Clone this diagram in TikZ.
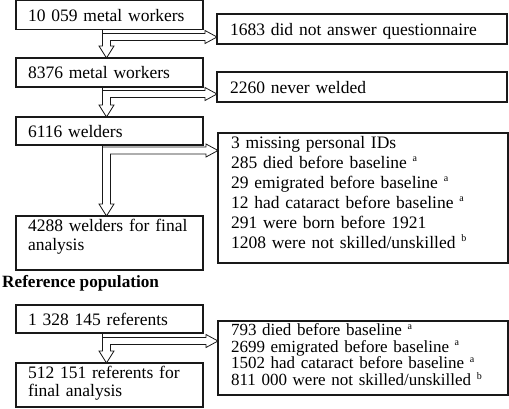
\documentclass[tikz,border=0pt]{standalone}
\usepackage{fontspec}
\setmainfont{Liberation Serif}
\usetikzlibrary{calc}
\definecolor{ink}{RGB}{25,25,25}
\newcommand\fnm[1]{\raisebox{6.5pt}{\fontsize{10}{10}\selectfont #1}}

\begin{document}
\begin{tikzpicture}[x=1pt,y=-1pt,
    stage/.style={draw=ink,line width=1.2pt,anchor=north west,outer sep=0pt,align=left,
      inner ysep=2pt,font=\fontsize{17.5}{19}\selectfont},
    lbox/.style={stage,text width=163pt,inner xsep=12pt},
    rbox/.style={stage,text width=264pt,inner xsep=13pt},
    single/.style={text height=13pt,text depth=0pt,minimum height=#1},
    flow/.style={draw=ink,line width=0.8pt}]
  \useasboundingbox (0,0) rectangle (509,409);
  % welders
  \node[lbox,single=28.7pt] (w1) at (16,0.8) {10 059 metal workers};
  \node[rbox,single=30pt] (x1) at (217,14) {1683 did not answer questionnaire};
  \node[lbox,single=29pt] (w2) at (16,58) {8376 metal workers};
  \node[rbox,single=30pt] (x2) at (217,72) {2260 never welded};
  \node[lbox,single=28pt] (w3) at (16,117) {6116 welders};
  \node[rbox,text height=13.5pt,text depth=112.5pt,font=\fontsize{17.5}{20}\selectfont] (x3)
    at (218,133)
    {3 missing personal IDs\\
     285 died before baseline~\fnm{a}\\
     29 emigrated before baseline~\fnm{a}\\
     12 had cataract before baseline~\fnm{a}\\
     291 were born before 1921\\
     1208 were not skilled/unskilled~\fnm{b}};
  \node[lbox,text height=13.5pt,text depth=36.5pt] (w4) at (16,216) {4288 welders for final\\analysis};
  % referents
  \node[font=\bfseries\fontsize{17.2}{19}\selectfont,anchor=base west,inner sep=0pt] (refpop)
    at (2,287) {Reference population};
  \node[lbox,single=28pt] (r1) at (16,305) {1 328 145 referents};
  \node[rbox,text height=12.5pt,text depth=57.5pt,font=\fontsize{17}{16.7}\selectfont] (x4)
    at (218,321)
    {793 died before baseline~\fnm{a}\\
     2699 emigrated before baseline~\fnm{a}\\
     1502 had cataract before baseline~\fnm{a}\\
     811 000 were not skilled/unskilled~\fnm{b}};
  \node[lbox,text height=13pt,text depth=27pt,font=\fontsize{17.5}{18.5}\selectfont] (r2)
    at (16,363) {512 151 referents for\\final analysis};
  % hollow block arrows
  \foreach \a/\b/\c/\m in {w1/w2/x1/37,w2/w3/x2/94,w3/w4/x3/150.5,r1/r2/x4/341}{
    \draw[flow] let \p1=($(\a.south)+(-3,0)$), \p2=(\b.north), \p3=(\c.west) in
      (\x1-4pt,\y1) -- (\x1-4pt,\y2+12pt) -- (\x1-7.5pt,\y2+12pt) -- (\x1,\y2)
      -- (\x1+7.5pt,\y2+12pt) -- (\x1+4pt,\y2+12pt) -- (\x1+4pt,{-(\m+3.5)*1pt})
      -- (\x3-12pt,{-(\m+3.5)*1pt}) -- (\x3-12pt,{-(\m+6.5)*1pt}) -- (\x3,{-\m*1pt})
      -- (\x3-12pt,{-(\m-6.5)*1pt}) -- (\x3-12pt,{-(\m-3.5)*1pt}) -- (\x1-4pt,{-(\m-3.5)*1pt});
  }
\end{tikzpicture}
\end{document}
